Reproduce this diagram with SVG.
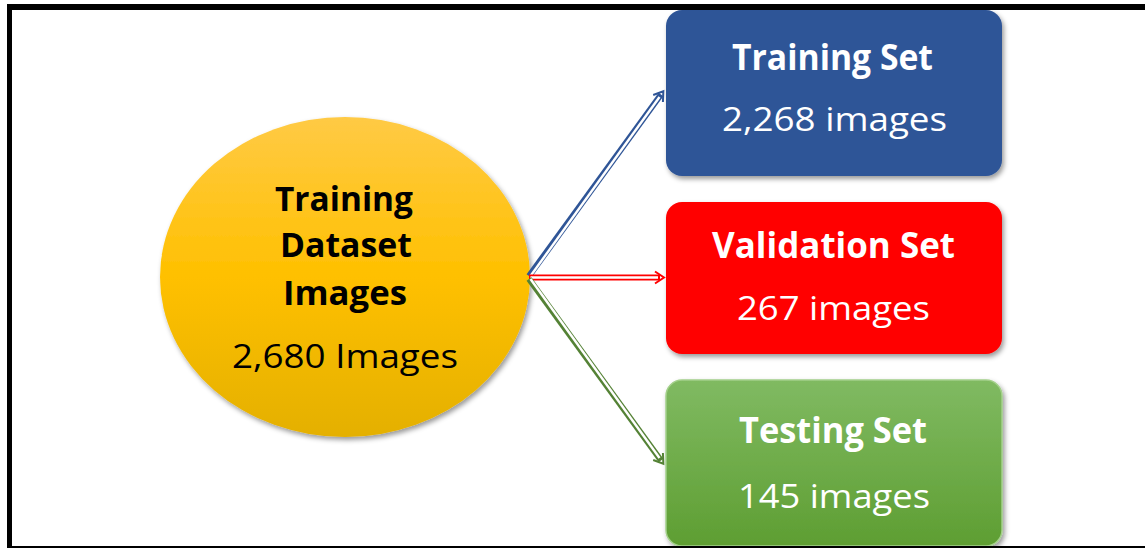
<svg xmlns="http://www.w3.org/2000/svg" width="1145" height="548" viewBox="0 0 1145 548">
  <style>
    .t { font-family: "Open Sans", "Noto Sans", "Liberation Sans", sans-serif; text-anchor: middle; }
    .b { font-weight: 700; }
    .w { fill: #ffffff; }
    .k { fill: #000000; }
    .outer { fill: none; stroke-width: 6; stroke-linecap: butt; }
    .inner { fill: none; stroke: #ffffff; stroke-width: 2.4; }
  </style>
  <defs>
    <filter id="shadow" x="-10%" y="-10%" width="125%" height="130%">
      <feDropShadow dx="2" dy="3" stdDeviation="2.5" flood-color="#000000" flood-opacity="0.4"/>
    </filter>
    <linearGradient id="gold" x1="0" y1="0" x2="0" y2="1">
      <stop offset="0" stop-color="#FFCA45"/>
      <stop offset="0.5" stop-color="#FFC000"/>
      <stop offset="1" stop-color="#E4B000"/>
    </linearGradient>
    <linearGradient id="green" x1="0" y1="0" x2="0" y2="1">
      <stop offset="0" stop-color="#80BA62"/>
      <stop offset="1" stop-color="#5E9E32"/>
    </linearGradient>
    <marker id="headBlue" markerUnits="userSpaceOnUse" markerWidth="16" markerHeight="16" refX="0" refY="0" viewBox="-8 -8 16 16" orient="auto">
      <path d="M-5,-6 L4,0 L-5,6" fill="none" stroke="#2F5597" stroke-width="2"/>
    </marker>
    <marker id="headRed" markerUnits="userSpaceOnUse" markerWidth="16" markerHeight="16" refX="0" refY="0" viewBox="-8 -8 16 16" orient="auto">
      <path d="M-5,-6 L4,0 L-5,6" fill="none" stroke="#FF0000" stroke-width="2"/>
    </marker>
    <marker id="headGreen" markerUnits="userSpaceOnUse" markerWidth="16" markerHeight="16" refX="0" refY="0" viewBox="-8 -8 16 16" orient="auto">
      <path d="M-5,-6 L4,0 L-5,6" fill="none" stroke="#548235" stroke-width="2"/>
    </marker>
  </defs>

  <rect x="0" y="0" width="1145" height="548" fill="#ffffff"/>

  <!-- source dataset -->
  <g id="dataset">
    <ellipse cx="345" cy="277" rx="185" ry="160" fill="url(#gold)" filter="url(#shadow)"/>
    <text class="t b k" x="344" y="211" font-size="34" textLength="138" lengthAdjust="spacingAndGlyphs">Training</text>
    <text class="t b k" x="346" y="257" font-size="34" textLength="132" lengthAdjust="spacingAndGlyphs">Dataset</text>
    <text class="t b k" x="345" y="305" font-size="34" textLength="124" lengthAdjust="spacingAndGlyphs">Images</text>
    <text class="t k" x="345" y="368" font-size="33" textLength="226" lengthAdjust="spacingAndGlyphs">2,680 Images</text>
  </g>

  <!-- split targets -->
  <g id="training-set">
    <rect x="666" y="10" width="336" height="166" rx="16" fill="#2F5597" filter="url(#shadow)"/>
    <text class="t b w" x="832.5" y="70" font-size="36" textLength="201" lengthAdjust="spacingAndGlyphs">Training Set</text>
    <text class="t w" x="834.5" y="131" font-size="33" textLength="225" lengthAdjust="spacingAndGlyphs">2,268 images</text>
  </g>

  <g id="validation-set">
    <rect x="666" y="202" width="336" height="152" rx="16" fill="#FF0000" filter="url(#shadow)"/>
    <text class="t b w" x="833.5" y="258" font-size="36" textLength="243" lengthAdjust="spacingAndGlyphs">Validation Set</text>
    <text class="t w" x="833.5" y="320" font-size="33" textLength="193" lengthAdjust="spacingAndGlyphs">267 images</text>
  </g>

  <g id="testing-set">
    <rect x="666" y="380" width="336" height="166" rx="16" fill="url(#green)" stroke="#A3D08A" stroke-width="1.5" filter="url(#shadow)"/>
    <text class="t b w" x="833" y="443" font-size="36" textLength="188" lengthAdjust="spacingAndGlyphs">Testing Set</text>
    <text class="t w" x="834" y="508" font-size="33" textLength="192" lengthAdjust="spacingAndGlyphs">145 images</text>
  </g>

  <!-- double-line connectors -->
  <g id="connectors">
    <path class="outer" d="M529,276 L661,94.5" stroke="#2F5597" marker-end="url(#headBlue)"/>
    <path class="inner" d="M530.5,276 L659.5,97"/>
    <path class="outer" d="M529,277.5 L660,277.5" stroke="#FF0000" marker-end="url(#headRed)"/>
    <path class="inner" d="M530.5,277.5 L658,277.5"/>
    <path class="outer" d="M529,279 L661,460.5" stroke="#548235" marker-end="url(#headGreen)"/>
    <path class="inner" d="M530.5,279 L659.5,458"/>
  </g>

  <!-- outer frame -->
  <g id="frame" fill="#000000">
    <rect x="7" y="4" width="1138" height="6"/>
    <rect x="7" y="4" width="5" height="544"/>
    <rect x="7" y="546" width="1138" height="2"/>
  </g>
</svg>
